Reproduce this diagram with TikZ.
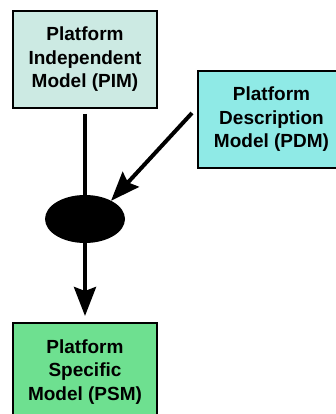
\documentclass[tikz,border=0pt]{standalone}
\usepackage{fontspec}
\setmainfont{Liberation Sans}
\usetikzlibrary{arrows.meta,shapes.geometric}
\definecolor{pimfill}{RGB}{204,234,227}
\definecolor{pdmfill}{RGB}{143,234,230}
\definecolor{psmfill}{RGB}{110,224,144}
\tikzset{
  modelbox/.style={draw=black, line width=2pt, align=center, inner sep=0pt,
    minimum width=144pt, minimum height=97pt,
    font=\fontsize{19}{23.5}\selectfont\bfseries},
  flow/.style={line width=4pt, -{Stealth[length=29pt,width=22pt,inset=4pt]}},
  plain/.style={line width=4pt}
}
\begin{document}
\begin{tikzpicture}[x=1pt,y=-1pt]
\useasboundingbox (0,0) rectangle (336,414);
\node[modelbox, fill=pimfill] (pim) at (85,59.5) {Platform\\Independent\\Model (PIM)};
\node[modelbox, fill=pdmfill, minimum width=147pt] (pdm) at (271.5,119.5) {Platform\\Description\\Model (PDM)};
\node[modelbox, fill=psmfill, minimum height=98pt] (psm) at (85,372) {Platform\\Specific\\Model (PSM)};
\node[ellipse, fill=black, minimum width=80pt, minimum height=48pt, inner sep=0pt, outer sep=0pt] (merge) at (85,219) {};
\coordinate (pdmstart) at ([shift={(-5pt,6.5pt)}]pdm.west);
\draw[plain, shorten <=5pt] (pim.south) -- (merge.north);
\draw[flow] (pdmstart) -- (merge.35);
\draw[flow, shorten >=6pt] (merge.south) -- (psm.north);
\end{tikzpicture}
\end{document}
